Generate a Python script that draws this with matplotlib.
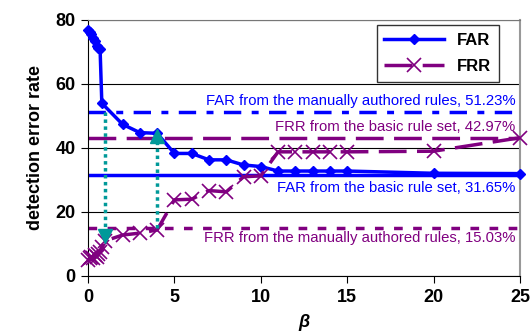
import matplotlib
matplotlib.use("Agg")
import matplotlib.pyplot as plt

# FAR curve (detection error rate vs beta)
far_beta = [0, 0.1, 0.2, 0.3, 0.4, 0.5, 0.6, 0.7, 0.8, 2, 3, 4, 5, 6, 7, 8, 9, 10,
            11, 12, 13, 14, 15, 20, 25]
far_vals = [77.0, 76.3, 75.5, 74.5, 73.5, 72.0, 71.2, 70.8, 54.0, 47.4, 44.8, 44.6,
            38.3, 38.3, 36.3, 36.3, 34.7, 34.2, 32.8, 32.8, 32.8, 32.8, 32.8, 32.1, 32.0]

# FRR curve
frr_beta = [0, 0.1, 0.2, 0.3, 0.4, 0.5, 0.6, 0.7, 0.8, 1, 2, 3, 4, 5, 6, 7, 8, 9, 10,
            11, 12, 13, 14, 15, 20, 25]
frr_vals = [5.0, 5.5, 6.0, 5.5, 6.5, 6.0, 7.0, 7.5, 9.0, 11.0, 12.8, 13.4, 14.4,
            23.8, 24.0, 26.7, 26.3, 31.0, 31.3, 38.8, 38.8, 38.8, 38.8, 38.8, 39.0, 43.2]

# reference levels
far_manual = 51.23
frr_basic = 42.97
far_basic = 31.65
frr_manual = 15.03

ref_labels = [
    "FAR from the manually authored rules, 51.23%",
    "FRR from the basic rule set, 42.97%",
    "FAR from the basic rule set, 31.65%",
    "FRR from the manually authored rules, 15.03%",
]

BLUE = "#0000FF"
PURPLE = "#800080"
TEAL = "#009999"

plt.rcParams["font.family"] = ["Liberation Sans", "DejaVu Sans"]

fig = plt.figure(figsize=(5.32, 3.34), dpi=100)
ax = fig.add_axes([88 / 532, 1 - 276 / 334, 432 / 532, 256 / 334])

# horizontal reference lines
ax.axhline(far_manual, color=BLUE, lw=2.5, dashes=(5, 3, 2, 3))
ax.axhline(frr_basic, color=PURPLE, lw=2.5, dashes=(8, 3))
ax.axhline(far_basic, color=BLUE, lw=2.5)
ax.axhline(frr_manual, color=PURPLE, lw=2.5, dashes=(2.5, 3))

# curves
ax.plot(far_beta, far_vals, color=BLUE, lw=2.5, marker="D", ms=5.5,
        label="FAR", clip_on=False, zorder=4)
ax.plot(frr_beta, frr_vals, color=PURPLE, lw=2.5, dashes=(8, 3), marker="x",
        ms=10, mew=1.2, label="FRR", clip_on=False, zorder=4)

# teal arrows
ax.plot([1, 1], [far_manual, 14.5], color=TEAL, lw=2.5, dashes=(1, 1), zorder=5)
ax.plot([1], [12.5], marker="v", ms=10, color=TEAL, zorder=5)
ax.plot([4, 4], [frr_manual, 41.5], color=TEAL, lw=2.5, dashes=(1, 1), zorder=5)
ax.plot([4], [43.6], marker="^", ms=10, color=TEAL, zorder=5)

# reference labels
ax.text(24.75, 54.7, ref_labels[0], color=BLUE, ha="right", va="center", fontsize=10.7)
ax.text(24.75, 46.7, ref_labels[1], color=PURPLE, ha="right", va="center", fontsize=10.7)
ax.text(24.75, 27.4, ref_labels[2], color=BLUE, ha="right", va="center", fontsize=10.7)
ax.text(24.75, 11.8, ref_labels[3], color=PURPLE, ha="right", va="center", fontsize=10.7)

ax.set_xlim(0, 25)
ax.set_ylim(0, 80)
ax.set_xticks([0, 5, 10, 15, 20, 25])
ax.set_yticks([0, 20, 40, 60, 80])
ax.tick_params(direction="out", length=5, width=0.8, labelsize=13, pad=4)
for lbl in ax.get_xticklabels() + ax.get_yticklabels():
    lbl.set_fontweight("bold")
ax.yaxis.grid(True, color="black", lw=0.8)
ax.set_axisbelow(True)
ax.spines["right"].set_color("#999999")
ax.spines["right"].set_linewidth(1.5)
ax.spines["top"].set_color("#777777")

ax.set_ylabel("detection error rate", fontsize=13, fontweight="bold", labelpad=8)
ax.set_xlabel("β", fontsize=13, fontweight="bold", fontstyle="italic", labelpad=6)

leg = ax.legend(loc="upper right", bbox_to_anchor=((499 - 88) / 432, 0.98),
                borderaxespad=0, prop={"weight": "bold", "size": 12}, frameon=True,
                fancybox=False, handlelength=3.6, borderpad=0.45, labelspacing=0.7)
leg.get_frame().set_edgecolor("black")
leg.get_frame().set_linewidth(1.0)

fig.savefig("out.png", dpi=100)
